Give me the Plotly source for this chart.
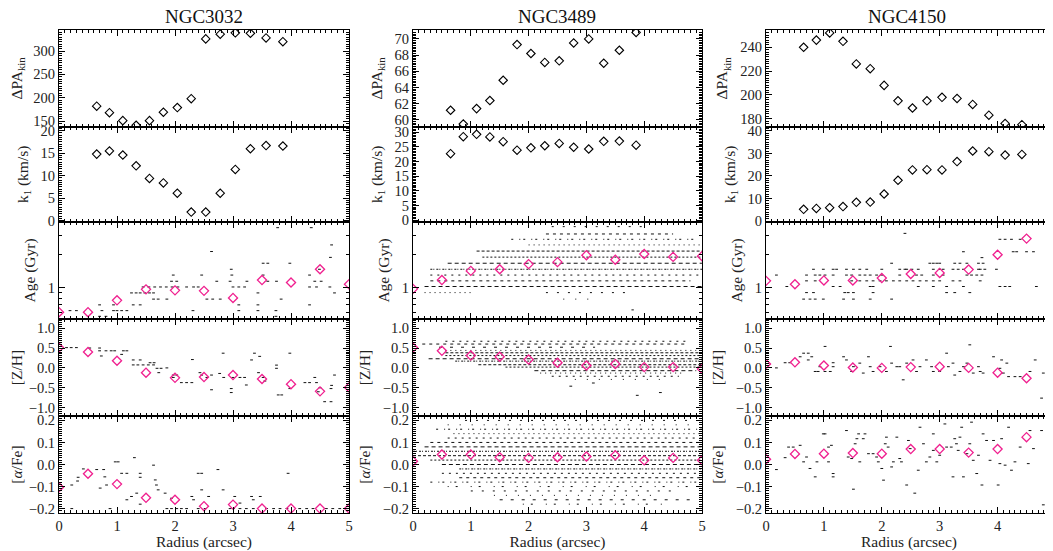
import math
import plotly.graph_objects as go

# the page places the figure 8 px from the window's top-left corner
OFF = 8
W, H = 1053 - OFF, 551 - OFF
FONT = "Liberation Serif, Times New Roman, serif"
PINK = "#f0208f"

galaxies = ["NGC3032", "NGC3489", "NGC4150"]

# ---------------- kinematics (open black diamonds) ----------------
radius_kin_3032 = [0.65, 0.87, 1.10, 1.33, 1.56, 1.80, 2.04, 2.28, 2.53, 2.78, 3.04, 3.30, 3.57, 3.86]
dpa_3032 = [182, 168, 151, 141, 151, 169, 179, 198, 326, 336, 339, 338, 328, 320]
k1_3032 = [14.8, 15.5, 14.6, 12.2, 9.4, 8.4, 6.1, 1.9, 1.9, 6.1, 11.4, 16.0, 16.7, 16.6]

radius_kin_3489 = [0.65, 0.87, 1.10, 1.33, 1.56, 1.80, 2.04, 2.28, 2.53, 2.78, 3.04, 3.30, 3.57, 3.86]
dpa_3489 = [61.2, 59.5, 61.4, 62.4, 64.9, 69.3, 68.2, 67.1, 67.3, 69.5, 70.0, 67.0, 68.6, 70.8]
k1_3489 = [22.7, 28.5, 29.3, 28.4, 26.8, 23.9, 24.7, 25.4, 26.2, 24.9, 24.3, 26.9, 27.0, 25.6]

radius_kin_4150 = [0.65, 0.87, 1.10, 1.33, 1.56, 1.80, 2.04, 2.28, 2.53, 2.78, 3.04, 3.30, 3.57, 3.85, 4.13, 4.42]
dpa_4150 = [240, 246, 252, 245, 226, 222, 208, 195, 189, 195, 198, 197, 192, 183, 176, 175]
k1_4150 = [5.2, 5.6, 5.9, 6.4, 8.3, 8.4, 12.0, 18.1, 22.7, 22.8, 22.7, 26.4, 31.1, 30.8, 29.3, 29.6]

# ---------------- stellar populations (magenta diamonds) ----------------
radius_pop = [0, 0.5, 1.0, 1.5, 2.0, 2.5, 3.0, 3.5, 4.0, 4.5, 5.0]
age_3032 = [0.60, 0.60, 0.77, 0.97, 0.95, 0.94, 0.81, 1.18, 1.12, 1.48, 1.08]
zh_3032 = [0.51, 0.40, 0.18, -0.12, -0.25, -0.23, -0.18, -0.28, -0.41, -0.59, -0.49]
afe_3032 = [-0.103, -0.042, -0.089, -0.151, -0.160, -0.189, -0.182, -0.200, -0.200, -0.200, -0.200]

age_3489 = [0.98, 1.18, 1.43, 1.48, 1.65, 1.72, 1.99, 1.81, 2.04, 1.92, 1.95]
zh_3489 = [0.51, 0.43, 0.31, 0.28, 0.21, 0.13, 0.06, 0.10, 0.02, 0.02, -0.03]
afe_3489 = [0.015, 0.045, 0.045, 0.033, 0.030, 0.033, 0.036, 0.042, 0.019, 0.030, 0.019]

age_4150 = [1.16, 1.08, 1.17, 1.17, 1.23, 1.34, 1.37, 1.47, 2.01, 2.82, 2.18]
zh_4150 = [0.10, 0.14, 0.06, 0.01, 0.00, 0.02, 0.03, 0.00, -0.12, -0.26, -0.12]
afe_4150 = [0.024, 0.048, 0.049, 0.052, 0.049, 0.070, 0.070, 0.054, 0.070, 0.124, 0.112]

# ---------------- individual solutions (small dots), NGC3032 ----------------
dots_age_3032_x = [0.19, 0.30, 0.74, 0.94, 1.00, 1.08, 1.17, 2.31, 3.10, 3.43, 3.74,
                   0.70, 0.81, 3.74,
                   0.70, 0.94, 1.28, 1.40, 3.10, 3.43, 4.32,
                   1.63, 1.71, 1.86, 2.55, 2.65, 2.78, 3.83,
                   1.25, 1.33, 1.40, 1.48, 1.56, 1.63, 3.43, 4.75,
                   1.45, 1.55, 1.65, 1.75, 1.85, 1.95, 2.05, 2.20, 2.32, 2.40, 3.00, 3.10, 3.20, 4.32, 4.44, 4.67,
                   1.94, 2.03, 2.72, 2.95, 3.24, 3.60, 3.75, 4.41, 4.52,
                   1.97, 2.46, 2.98, 3.52, 4.32,
                   2.97, 4.49,
                   3.52, 3.60, 3.98,
                   4.68, 2.63, 4.70, 3.77, 4.35]
dots_age_3032_y = [0.62] * 11 + [0.55] * 3 + [0.70] * 7 + [0.79] * 7 + [0.90] * 8 + \
                  [1.02] * 16 + [1.15] * 9 + [1.31] * 5 + [1.48] * 2 + [1.68] * 3 + \
                  [1.90, 2.15, 2.47, 3.55, 3.55]

dots_zh_3032_x = [0.13, 0.21, 0.30, 0.53, 0.70, 0.70, 0.81, 0.90, 0.96, 1.11, 1.17, 0.73, 1.08, 1.28, 1.40,
                  1.28, 1.36, 1.45, 1.54, 1.63, 1.57, 1.64, 1.69, 1.76, 1.72, 1.86, 1.97, 1.97, 2.03,
                  2.11, 2.20, 2.29, 2.30, 2.43, 2.46, 2.55, 2.63, 2.63, 2.77, 2.83, 2.84, 2.97, 2.97,
                  3.00, 3.12, 3.20, 3.23, 3.32, 3.37, 3.46, 3.44, 3.52, 3.55, 3.75, 3.75, 3.78, 3.84,
                  3.98, 3.98, 4.24, 4.32, 4.41, 4.44, 4.47, 4.50, 4.58, 4.69, 4.69, 4.70, 4.75]
dots_zh_3032_y = [0.51, 0.51, 0.51, 0.50, 0.50, 0.43, 0.43, 0.43, 0.43, 0.43, 0.43, 0.30, 0.34, 0.20, 0.20,
                  0.075, 0.075, 0.075, 0.075, 0.075, 0.13, 0.13, -0.01, -0.01, -0.12, 0.00, -0.18, -0.24, -0.18,
                  -0.37, -0.37, -0.37, 0.21, -0.12, -0.18, -0.24, -0.18, -0.55, -0.14, 0.37, -0.24, -0.52, -0.62,
                  -0.24, -0.24, -0.24, -0.43, 0.20, 0.37, 0.29, -0.12, -0.24, -0.33, 0.07, -0.01, -0.68, -0.68,
                  0.37, -0.52, -0.37, -0.37, -0.24, -0.37, -0.60, -0.50, -0.85, -0.85, -0.52, -0.44, -0.18]

dots_afe_3032_x = [0.22, 0.32, 0.33, 0.42, 0.65, 0.71, 0.77, 0.79, 0.82, 0.97, 1.02, 1.08, 1.17, 1.17, 1.25,
                   1.30, 1.34, 1.40, 1.40, 1.40, 1.63, 1.66, 1.68, 1.71, 1.83, 1.94, 2.29, 2.32, 2.40,
                   2.46, 2.46, 2.58, 2.74, 2.83, 3.03, 3.12, 3.32, 3.35, 3.47, 3.95,
                   0.22, 0.88, 1.86, 1.94, 2.03, 2.11, 2.20, 2.40, 2.52, 2.95, 3.01, 3.12, 3.23, 3.35,
                   3.58, 3.70, 3.81, 3.93, 4.15, 4.27, 4.38, 4.61, 4.72, 4.84, 4.96]
dots_afe_3032_y = [-0.093, -0.075, -0.058, -0.020, -0.023, -0.107, -0.023, -0.056, -0.093, 0.012, 0.012,
                   -0.040, -0.040, -0.160, -0.145, 0.031, -0.130, -0.040, -0.058, -0.180, -0.003, -0.070,
                   -0.093, -0.115, -0.130, -0.153, -0.145, -0.160, -0.040, -0.040, -0.115, -0.145, -0.023,
                   -0.115, -0.145, -0.175, -0.145, -0.160, -0.145, -0.040] + [-0.200] * 25

# ---------------- individual solutions, NGC3489 (dense rows of dots) ----------------
rows_age_3489_y = [3.63, 3.11, 2.78, 2.47, 2.17, 1.91, 1.68, 1.48, 1.31, 1.16, 1.03, 0.906, 0.906, 0.79, 0.63]
rows_age_3489_x0 = [2.4, 2.3, 1.7, 2.0, 1.1, 1.2, 0.6, 0.3, 0.3, 0.3, 0.2, 0.2, 2.3, 2.6, 3.78]
rows_age_3489_x1 = [4.1, 4.5, 4.9, 5.0, 5.0, 5.0, 5.0, 5.0, 5.0, 4.8, 5.0, 1.0, 3.7, 3.1, 3.82]
rows_age_3489_fill = ["sparse", "medium", "medium", "medium", "dense", "dense", "dense", "dense",
                      "medium", "medium", "dense", "medium", "sparse", "sparse", "sparse"]

rows_zh_3489_y = [0.67, 0.60, 0.52, 0.44, 0.38, 0.31, 0.23, 0.17, 0.08, 0.02, -0.07, -0.13, -0.21, -0.29]
rows_zh_3489_x0 = [0.56, 0.16, 0.45, 0.56, 0.56, 0.56, 0.27, 0.73, 1.13, 1.6, 2.1, 2.2, 2.4, 2.8]
rows_zh_3489_x1 = [4.77, 4.71, 3.15, 4.9, 5.0, 5.0, 5.0, 5.0, 5.0, 5.0, 4.9, 4.66, 4.6, 4.3]
rows_zh_3489_fill = ["medium", "medium", "sparse", "medium", "dense", "dense", "dense", "dense",
                     "dense", "dense", "dense", "medium", "medium", "sparse"]
dots_zh_3489_x = [2.73, 3.12, 3.88, 4.28]
dots_zh_3489_y = [-0.46, -0.38, -0.69, -0.62]

rows_afe_3489_y = [0.20, 0.18, 0.16, 0.14, 0.12, 0.10, 0.08, 0.06, 0.04, 0.02, 0.00,
                   -0.02, -0.04, -0.06, -0.08, -0.10, -0.12, -0.14, -0.16, -0.18]
rows_afe_3489_x0 = [0.9, 0.6, 0.4, 0.7, 0.6, 0.3, 0.2, 0.0, 0.0, 0.3, 0.5,
                    0.8, 0.5, 0.8, 0.3, 0.6, 1.0, 1.4, 1.5, 1.9]
rows_afe_3489_x1 = [4.8, 4.9, 5.0, 5.0, 5.0, 5.0, 5.0, 5.0, 5.0, 5.0, 5.0,
                    5.0, 5.0, 5.0, 4.9, 4.8, 4.6, 4.2, 4.9, 4.4]
rows_afe_3489_fill = ["sparse", "sparse", "medium", "medium", "medium", "medium", "dense", "dense",
                      "dense", "dense", "dense", "dense", "medium", "medium", "medium", "sparse",
                      "sparse", "sparse", "sparse", "sparse"]

# ---------------- individual solutions, NGC4150 ----------------
dots_age_4150_x = [0.18, 0.70, 0.85, 0.93, 1.02, 1.16, 1.39, 1.48, 1.62, 1.71, 1.80, 1.91, 2.00, 2.31, 2.60,
                   2.69, 2.89, 3.06, 3.47, 3.55, 3.64, 3.73, 4.85,
                   0.70, 0.85, 1.48, 1.62, 1.74, 1.85, 1.97, 2.08, 2.20, 2.31, 2.43, 2.54, 2.66, 2.77,
                   2.89, 3.00, 3.23, 3.35, 3.70,
                   0.36, 1.16, 1.28, 1.80, 1.85, 2.63, 2.89, 3.12, 3.41, 4.04, 4.13, 4.21, 4.67,
                   0.70, 0.82, 1.36, 1.42, 1.51, 1.85, 3.12, 3.26, 3.52,
                   0.65, 0.76, 0.85, 0.99, 1.34, 1.51, 1.80, 2.17,
                   0.82, 0.99, 1.16, 1.22, 1.39, 1.51, 1.62, 1.74, 2.00, 2.31, 2.40, 2.43, 2.52, 2.63,
                   2.89, 3.00, 3.06, 3.23, 3.32, 3.41, 3.67, 3.70, 3.78, 3.98, 4.85,
                   2.17, 2.83, 2.89, 2.95, 3.00, 3.26, 3.35, 3.47, 3.67, 3.75,
                   3.73,
                   3.41, 4.27, 4.33, 4.50, 4.62,
                   4.85,
                   4.04, 4.13, 4.24, 4.39,
                   2.40]
dots_age_4150_y = [1.31] * 23 + [1.16] * 19 + [1.03] * 13 + [0.906] * 9 + [0.79] * 8 + [1.48] * 25 + \
                  [1.68] * 10 + [1.89] + [2.14] * 5 + [2.47] + [2.78] * 4 + [3.15]

dots_zh_4150_x = [0.18, 0.33, 0.41, 0.59, 0.65, 0.73, 0.73, 0.79, 0.85, 0.90, 0.93, 1.02, 1.02, 1.11, 1.16,
                  1.16, 1.34, 1.39, 1.48, 1.51, 1.62, 1.68, 1.77, 1.80, 1.85, 1.97, 2.08, 2.15, 2.17,
                  2.26, 2.31, 2.37, 2.43, 2.54, 2.60, 2.66, 2.77, 2.86, 2.89, 3.00, 3.12, 3.15, 3.23,
                  3.26, 3.35, 3.41, 3.47, 3.52, 3.58, 3.67, 3.70, 3.75, 3.93, 4.04, 4.07, 4.16, 4.10,
                  4.19, 4.30, 4.39, 4.56, 4.65, 4.79, 4.91, 4.76, 4.91, 4.85]
dots_zh_4150_y = [0.00, 0.13, 0.13, 0.28, 0.37, 0.37, 0.20, 0.28, -0.09, -0.09, 0.03, 0.54, -0.09, -0.09, 0.03,
                  0.13, 0.28, 0.20, -0.09, 0.03, 0.12, -0.13, 0.28, 0.03, -0.09, 0.03, -0.09, 0.54, 0.12,
                  0.03, 0.03, -0.30, 0.12, 0.20, -0.09, 0.03, 0.20, 0.03, -0.09, -0.09, 0.37, 0.03, 0.12,
                  -0.18, -0.09, 0.03, 0.12, 0.58, -0.13, 0.03, -0.09, -0.13, 0.28, -0.01, 0.20, 0.12, -0.13,
                  -0.22, -0.22, -0.22, -0.09, 0.20, -0.13, -0.30, -0.76, -0.47, 1.00]

dots_afe_4150_x = [0.18, 0.33, 0.39, 0.47, 0.59, 0.65, 0.70, 0.76, 0.85, 0.88, 0.99, 1.02, 1.08, 1.08, 1.13,
                   1.16, 1.16, 1.39, 1.42, 1.48, 1.51, 1.54, 1.57, 1.60, 1.62, 1.68, 1.71, 1.77, 1.85,
                   1.91, 1.94, 2.00, 2.03, 2.06, 2.08, 2.11, 2.17, 2.20, 2.26, 2.31, 2.34, 2.43, 2.46,
                   2.49, 2.57, 2.63, 2.66, 2.72, 2.77, 2.83, 2.89, 2.89, 2.95, 3.00, 3.09, 3.12, 3.20,
                   3.23, 3.26, 3.29, 3.32, 3.35, 3.38, 3.41, 3.47, 3.52, 3.55, 3.58, 3.64, 3.67, 3.73,
                   3.75, 3.81, 3.87, 3.93, 4.01, 4.04, 4.07, 4.13, 4.19, 4.24, 4.30, 4.39, 4.53, 4.56,
                   4.62, 4.76, 4.79, 4.85, 4.91]
dots_afe_4150_y = [-0.023, 0.031, 0.079, 0.079, 0.087, 0.012, 0.034, -0.018, -0.056, 0.012, 0.139, 0.139,
                   0.079, 0.012, 0.087, -0.041, -0.056, 0.154, 0.034, 0.027, -0.112, 0.094, 0.117, 0.139,
                   0.012, 0.117, 0.139, 0.049, 0.049, 0.034, 0.012, -0.018, -0.071, 0.094, 0.124, 0.079,
                   -0.011, 0.012, 0.124, 0.027, 0.012, -0.093, 0.109, 0.072, -0.130, -0.026, 0.169, 0.094,
                   0.012, 0.034, 0.139, 0.064, 0.012, 0.042, 0.184, 0.079, 0.079, -0.056, 0.117, 0.094,
                   0.064, 0.124, 0.169, -0.056, 0.049, 0.094, 0.192, 0.019, -0.041, 0.042, -0.093, 0.139,
                   0.109, 0.019, 0.109, -0.093, 0.004, 0.117, -0.003, 0.169, -0.026, 0.012, 0.079, 0.004,
                   0.154, 0.072, 0.154, -0.183, 0.154, 0.079]

# ---------------- axes ----------------
age_ticks = [1]
age_minor = [0.6, 0.7, 0.8, 0.9, 2, 3, 4]
y_titles = ["ΔPA<sub>kin</sub>", "k<sub>1</sub> (km/s)", "Age (Gyr)", "[Z/H]", "[<i>α</i>/Fe]"]

# panel edges in window pixels
col_px = [(59, 349), (413, 702), (766, 1052)]
row_px = [(30, 126.7), (126.7, 222), (222, 319), (319, 416), (416, 513)]
x_ranges = [[0, 5], [0, 5], [0, 4.94]]

# per column: (range, dtick, minor dtick) for dPA and k1
kin_axes = [
    [([138, 345], 50, 5), ([-0.3, 20.9], 5, 0.5)],
    [([59.17, 71.1], 2, 0.2), ([-0.6, 31.9], 5, 0.5)],
    [([173.3, 254.5], 20, 2), ([-0.44, 41.9], 10, 1)],
]

fig = go.Figure()
layout = {}


def ax_id(r, c):
    return r * 3 + c + 1


def names(r, c):
    i = ax_id(r, c)
    return ("x" if i == 1 else f"x{i}"), ("y" if i == 1 else f"y{i}")


def fx(px):
    return (px - OFF) / W


def fy(py):
    return 1 - (py - OFF) / H


tickfont = dict(family=FONT, size=14.5, color="#222")
titlefont = dict(family=FONT, size=15.5, color="#222")

for c in range(3):
    for r in range(5):
        i = ax_id(r, c)
        xn, yn = names(r, c)
        x0, x1 = col_px[c]
        yt, yb = row_px[r]
        xa = dict(
            domain=[fx(x0), min(1.0, fx(x1))], anchor=yn, range=x_ranges[c], automargin=False,
            showline=True, linecolor="black", linewidth=1, mirror="ticks",
            ticks="inside", ticklen=6, tickcolor="black", tickwidth=1,
            dtick=1, tick0=0, showgrid=False, zeroline=False,
            minor=dict(dtick=0.1, ticks="inside", ticklen=3, tickcolor="black", tickwidth=1, showgrid=False),
            showticklabels=(r == 4), tickfont=tickfont,
        )
        if r == 4:
            xa["title"] = dict(text="Radius (arcsec)", font=titlefont, standoff=0)
        ya = dict(
            domain=[fy(yb), fy(yt)], anchor=xn, automargin=False,
            showline=True, linecolor="black", linewidth=1, mirror="ticks",
            ticks="inside", ticklen=6, tickcolor="black", tickwidth=1,
            showgrid=False, zeroline=False, tickfont=tickfont,
            title=dict(text=y_titles[r], font=titlefont, standoff=8),
        )
        if r < 2:
            rng, dt, mdt = kin_axes[c][r]
            ya.update(range=rng, dtick=dt, tick0=0,
                      minor=dict(dtick=mdt, ticks="inside", ticklen=3, tickcolor="black", tickwidth=1, showgrid=False))
        elif r == 2:
            ya.update(type="log", range=[math.log10(0.52), math.log10(4.0)],
                      tickmode="array", tickvals=age_ticks, ticktext=["1"],
                      minor=dict(tickmode="array", tickvals=age_minor, ticks="inside", ticklen=3,
                                 tickcolor="black", tickwidth=1, showgrid=False))
        elif r == 3:
            ya.update(range=[-1.21, 1.23], dtick=0.5, tick0=0, tickformat=".1f",
                      minor=dict(dtick=0.05, ticks="inside", ticklen=3, tickcolor="black", tickwidth=1, showgrid=False))
        else:
            ya.update(range=[-0.22, 0.22], dtick=0.1, tick0=0, tickformat=".1f",
                      minor=dict(dtick=0.01, ticks="inside", ticklen=3, tickcolor="black", tickwidth=1, showgrid=False))
        layout["xaxis" if i == 1 else f"xaxis{i}"] = xa
        layout["yaxis" if i == 1 else f"yaxis{i}"] = ya

DASH = {
    "dense": ["3px,2px", "2px,2px", "4px,3px", "2px,1px,1px,2px"],
    "medium": ["2px,5px", "3px,4px", "2px,6px,1px,3px", "1px,4px"],
    "sparse": ["2px,9px", "1px,11px", "3px,8px", "1px,7px,2px,13px"],
}


def add_dots(xs, ys, r, c):
    xn, yn = names(r, c)
    fig.add_trace(go.Scatter(x=xs, y=ys, mode="markers", xaxis=xn, yaxis=yn, hoverinfo="skip",
                             marker=dict(symbol="line-ew", size=2, color="black",
                                         line=dict(width=1, color="#111"))))


def add_rows(ys, x0s, x1s, fills, r, c):
    xn, yn = names(r, c)
    for k, (y, a, b, f) in enumerate(zip(ys, x0s, x1s, fills)):
        pats = DASH[f]
        fig.add_trace(go.Scatter(x=[a, b], y=[y, y], mode="lines", xaxis=xn, yaxis=yn, hoverinfo="skip",
                                 line=dict(color="#111", width=1, dash=pats[k % len(pats)])))


def add_kin(xs, ys, r, c):
    xn, yn = names(r, c)
    fig.add_trace(go.Scatter(x=xs, y=ys, mode="markers", xaxis=xn, yaxis=yn,
                             marker=dict(symbol="diamond-open", size=6.5, color="black",
                                         line=dict(width=1.1, color="black"))))


def add_pop(ys, r, c):
    xn, yn = names(r, c)
    fig.add_trace(go.Scatter(x=radius_pop, y=ys, mode="markers", xaxis=xn, yaxis=yn,
                             marker=dict(symbol="diamond-open", size=7, color=PINK,
                                         line=dict(width=1.3, color=PINK))))


# NGC3032
add_kin(radius_kin_3032, dpa_3032, 0, 0)
add_kin(radius_kin_3032, k1_3032, 1, 0)
add_dots(dots_age_3032_x, dots_age_3032_y, 2, 0)
add_dots(dots_zh_3032_x, dots_zh_3032_y, 3, 0)
add_dots(dots_afe_3032_x, dots_afe_3032_y, 4, 0)
add_pop(age_3032, 2, 0)
add_pop(zh_3032, 3, 0)
add_pop(afe_3032, 4, 0)

# NGC3489
add_kin(radius_kin_3489, dpa_3489, 0, 1)
add_kin(radius_kin_3489, k1_3489, 1, 1)
add_rows(rows_age_3489_y, rows_age_3489_x0, rows_age_3489_x1, rows_age_3489_fill, 2, 1)
add_rows(rows_zh_3489_y, rows_zh_3489_x0, rows_zh_3489_x1, rows_zh_3489_fill, 3, 1)
add_dots(dots_zh_3489_x, dots_zh_3489_y, 3, 1)
add_rows(rows_afe_3489_y, rows_afe_3489_x0, rows_afe_3489_x1, rows_afe_3489_fill, 4, 1)
add_pop(age_3489, 2, 1)
add_pop(zh_3489, 3, 1)
add_pop(afe_3489, 4, 1)

# NGC4150
add_kin(radius_kin_4150, dpa_4150, 0, 2)
add_kin(radius_kin_4150, k1_4150, 1, 2)
add_dots(dots_age_4150_x, dots_age_4150_y, 2, 2)
add_dots(dots_zh_4150_x, dots_zh_4150_y, 3, 2)
add_dots(dots_afe_4150_x, dots_afe_4150_y, 4, 2)
add_pop(age_4150, 2, 2)
add_pop(zh_4150, 3, 2)
add_pop(afe_4150, 4, 2)

annotations = []
title_cx = [204, 557, 907]
for c, name in enumerate(galaxies):
    annotations.append(dict(text=name, x=fx(title_cx[c]), y=fy(17), xref="paper", yref="paper",
                            showarrow=False, xanchor="center", yanchor="middle",
                            font=dict(family=FONT, size=19, color="#111")))

fig.update_layout(
    width=W, height=H, margin=dict(l=0, r=0, t=0, b=0),
    paper_bgcolor="white", plot_bgcolor="white", showlegend=False,
    annotations=annotations, font=dict(family=FONT), **layout,
)

fig.write_html("out.html")
